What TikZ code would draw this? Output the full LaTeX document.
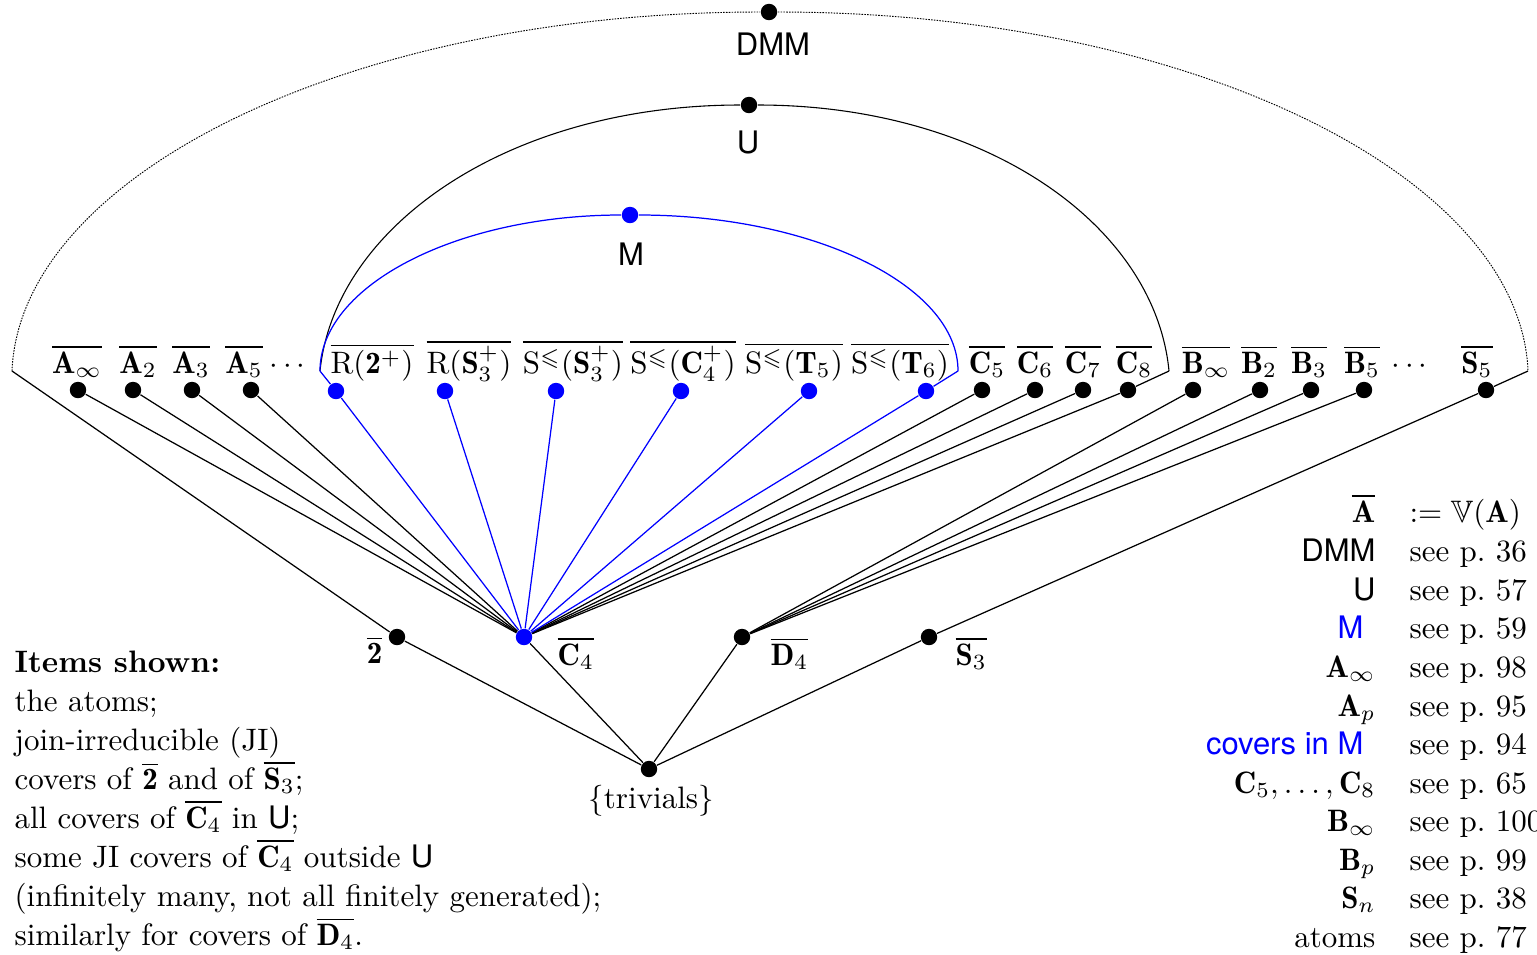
\documentclass[tikz,border=0pt]{standalone}
\usepackage{amsmath,amssymb}
\usepackage{fontspec}
\newfontfamily\hv{TeX Gyre Heros}
\usetikzlibrary{calc}
\begin{document}
\begin{tikzpicture}[x=0.32258pt,y=-0.32258pt,
  vdot/.style={circle,fill=black,inner sep=0pt,minimum size=5.3pt},
  bvdot/.style={vdot,fill=blue},
  lbl/.style={anchor=base,inner sep=0pt},
  lblw/.style={anchor=base west,inner sep=0pt},
  lble/.style={anchor=base east,inner sep=0pt},
  covline/.style={line width=0.4pt},
  bcovline/.style={line width=0.4pt,blue},
  dmmcurve/.style={line width=0.3pt,dash pattern=on 0.5pt off 0.4pt},
  ucurve/.style={line width=0.35pt}]
\useasboundingbox (0,0) rectangle (1537,954);

% corners of the regions
\coordinate (Dl) at (12,371);
\coordinate (Ml) at (320,371);
\coordinate (Mr) at (958,371);
\coordinate (Ur) at (1169,371);
\coordinate (Dr) at (1528,371);

% top nodes
\node[vdot] (DMM) at (769,12) {};
\node[vdot] (U) at (749,105) {};
\node[bvdot] (M) at (630,215) {};
\node[lbl] (labDMM) at (773,55) {\hv DMM};
\node[lbl] (labU) at (748,153) {\hv U};
\node[lbl] (labM) at (631,265) {\hv M};

% row of covers
\node[vdot] (Ainf) at (78,390) {};
\node[vdot] (A2) at (133,390) {};
\node[vdot] (A3) at (192,390) {};
\node[vdot] (A5) at (251,390) {};
\node[bvdot] (R2) at (336,391) {};
\node[bvdot] (RS3) at (445,391) {};
\node[bvdot] (SS3) at (556,391) {};
\node[bvdot] (SC4) at (681,391) {};
\node[bvdot] (ST5) at (809,391) {};
\node[bvdot] (ST6) at (926,391) {};
\node[vdot] (C5) at (982,390) {};
\node[vdot] (C6) at (1035,390) {};
\node[vdot] (C7) at (1083,390) {};
\node[vdot] (C8) at (1128,390) {};
\node[vdot] (Binf) at (1193,390) {};
\node[vdot] (B2) at (1260,390) {};
\node[vdot] (B3) at (1311,390) {};
\node[vdot] (B5) at (1364,390) {};
\node[vdot] (S5) at (1486,390) {};

\node[lbl] (labAinf) at (77,373) {$\overline{\mathbf{A}_\infty}$};
\node[lbl] (labA2) at (138,373) {$\overline{\mathbf{A}_2}$};
\node[lbl] (labA3) at (191,373) {$\overline{\mathbf{A}_3}$};
\node[lbl] (labA5) at (244,373) {$\overline{\mathbf{A}_5}$};
\node[lbl] (labdotsA) at (290,373) {$\cdots$};
\node[lbl] (labR2) at (372,373) {$\overline{\mathrm{R}(\mathbf{2}^+)}$};
\node[lbl] (labRS3) at (469,373) {$\overline{\mathrm{R}(\mathbf{S}_3^+)}$};
\node[lbl] (labSS3) at (573,373) {$\overline{\mathrm{S}^{\leqslant}(\mathbf{S}_3^+)}$};
\node[lbl] (labSC4) at (683,373) {$\overline{\mathrm{S}^{\leqslant}(\mathbf{C}_4^+)}$};
\node[lbl] (labST5) at (794,373) {$\overline{\mathrm{S}^{\leqslant}(\mathbf{T}_5)}$};
\node[lbl] (labST6) at (900,373) {$\overline{\mathrm{S}^{\leqslant}(\mathbf{T}_6)}$};
\node[lbl] (labC5) at (987,373) {$\overline{\mathbf{C}_5}$};
\node[lbl] (labC6) at (1035,373) {$\overline{\mathbf{C}_6}$};
\node[lbl] (labC7) at (1083,373) {$\overline{\mathbf{C}_7}$};
\node[lbl] (labC8) at (1134,373) {$\overline{\mathbf{C}_8}$};
\node[lbl] (labBinf) at (1206,373) {$\overline{\mathbf{B}_\infty}$};
\node[lbl] (labB2) at (1259,373) {$\overline{\mathbf{B}_2}$};
\node[lbl] (labB3) at (1309,373) {$\overline{\mathbf{B}_3}$};
\node[lbl] (labB5) at (1362,373) {$\overline{\mathbf{B}_5}$};
\node[lbl] (labdotsB) at (1412,373) {$\cdots$};
\node[lbl] (labS5) at (1477,373) {$\overline{\mathbf{S}_5}$};

% atoms and bottom
\node[vdot] (two) at (397,637) {};
\node[bvdot] (C4) at (524,637) {};
\node[vdot] (D4) at (742,637) {};
\node[vdot] (S3) at (929,637) {};
\node[vdot] (triv) at (649,769) {};
\node[lble] (labtwo) at (383,663) {$\overline{\mathbf{2}}$};
\node[lblw] (labC4) at (557,665) {$\overline{\mathbf{C}_4}$};
\node[lblw] (labD4) at (770,665) {$\overline{\mathbf{D}_4}$};
\node[lblw] (labS3) at (955,665) {$\overline{\mathbf{S}_3}$};
\node[lbl] (labtriv) at (651,808) {$\{\text{trivials}\}$};

% black covers
\foreach \n in {Ainf,A2,A3,A5,C5,C6,C7,C8} \draw[covline] (C4) -- (\n);
\foreach \n in {Binf,B2,B3,B5} \draw[covline] (D4) -- (\n);
\draw[covline] (S3) -- (S5);
\foreach \n in {two,C4,D4,S3} \draw[covline] (triv) -- (\n);

% region boundaries
\draw[covline] (two) -- (Dl);
\draw[covline] (S5) -- (Dr);
\draw[dmmcurve] (Dl) .. controls (20,175) and (350,12) .. (DMM)
  .. controls (1188,12) and (1520,175) .. (Dr);
\draw[covline] (C8) -- (Ur);
\draw[ucurve] (Ml) .. controls (335,225) and (510,105) .. (U)
  .. controls (985,105) and (1155,225) .. (Ur);

% blue covers
\foreach \n in {R2,RS3,SS3,SC4,ST5,ST6} \draw[bcovline] (C4) -- (\n);
\draw[bcovline] (R2) -- (Ml);
\draw[bcovline] (ST6) -- (Mr);
\draw[bcovline] (Ml) .. controls (320,285) and (458,215) .. (M)
  .. controls (812,215) and (958,285) .. (Mr);

% left text
\node[lblw] (t1) at (14,672) {\textbf{Items shown:}};
\node[lblw] (t2) at (14,711) {the atoms;};
\node[lblw] (t3) at (14,750) {join-irreducible (JI)};
\node[lblw] (t4) at (14,789) {covers of $\overline{\mathbf{2}}$ and of $\overline{\mathbf{S}_3}$;};
\node[lblw] (t5) at (14,828) {all covers of $\overline{\mathbf{C}_4}$ in {\hv U};};
\node[lblw] (t6) at (14,867) {some JI covers of $\overline{\mathbf{C}_4}$ outside {\hv U}};
\node[lblw] (t7) at (14,906) {(infinitely many, not all finitely generated);};
\node[lblw] (t8) at (14,945) {similarly for covers of $\overline{\mathbf{D}_4}$.};

% key
\foreach \i/\yy/\xa/\ta/\tb in {
  1/522/1376/{$\overline{\mathbf{A}}$}/{$:=\mathbb{V}(\mathbf{A})$},
  2/561/1376/{\hv DMM}/{see p.~36},
  3/600/1376/{\hv U}/{see p.~57},
  4/638/1364/{\color{blue}\hv M}/{see p.~59},
  5/677/1376/{$\mathbf{A}_\infty$}/{see p.~98},
  6/716/1376/{$\mathbf{A}_p$}/{see p.~95},
  7/754/1364/{\color{blue}\hv covers in M}/{see p.~94},
  8/793/1376/{$\mathbf{C}_5,\ldots,\mathbf{C}_8$}/{see p.~65},
  9/831/1376/{$\mathbf{B}_\infty$}/{see p.~100},
  10/870/1376/{$\mathbf{B}_p$}/{see p.~99},
  11/908/1376/{$\mathbf{S}_n$}/{see p.~38},
  12/947/1376/{atoms}/{see p.~77}}
{
  \node[lble] (ka\i) at (\xa,\yy) {\ta};
  \node[lblw] (kb\i) at (1409,\yy) {\tb};
}
\end{tikzpicture}
\end{document}
